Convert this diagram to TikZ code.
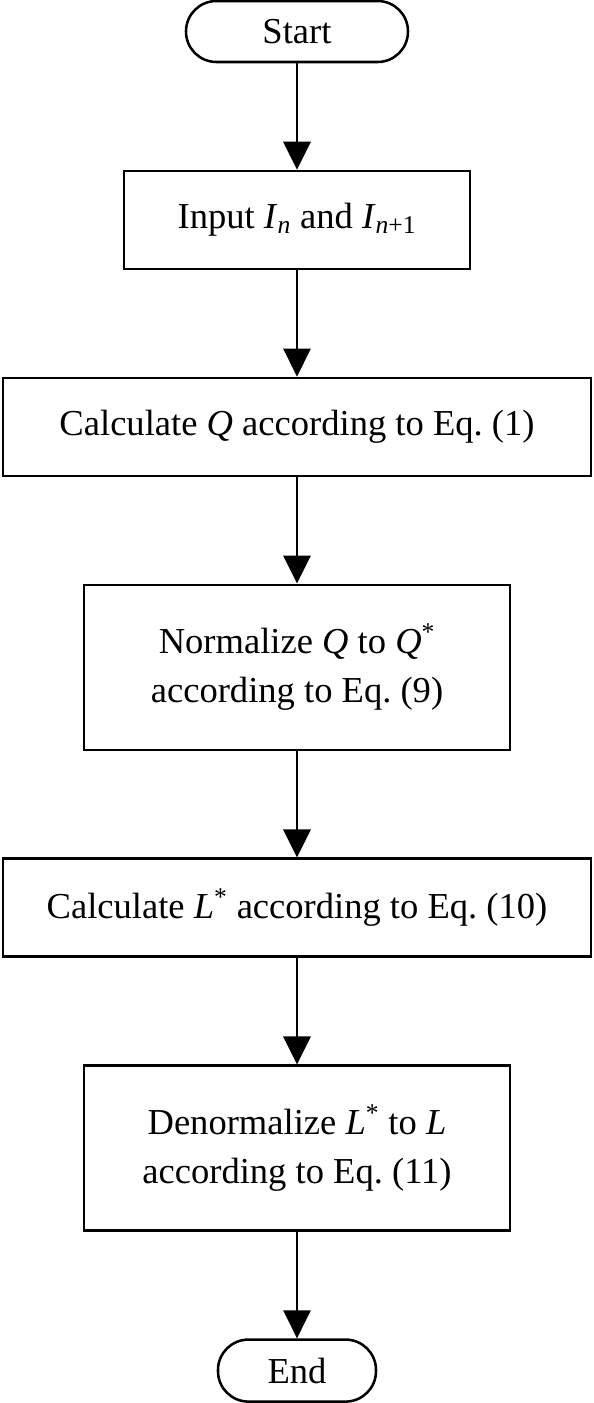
\documentclass[tikz,border=0pt]{standalone}
\usepackage{fontspec}
\setmainfont{Liberation Serif}
\usetikzlibrary{shapes,arrows.meta,positioning}
\frenchspacing
\tikzstyle{terminal} = [rectangle, draw, rounded corners=0.76cm, minimum height=1.525cm, align=center]
\tikzstyle{process} = [rectangle, draw, align=center, minimum height=2.45cm]
\tikzstyle{line} = [draw, -{Triangle[length=0.7cm, width=0.68cm]}]

\begin{document}
\begin{tikzpicture}[node distance=2.66cm, line width=1.8pt, font=\fontsize{26}{35}\selectfont]
    \useasboundingbox (-7.425,0.7875) rectangle (7.425,-34.2875);
    \node [terminal, minimum width=5.55cm] (start) {Start};
    \node [process, below=of start, minimum width=8.65cm] (input) {Input \textit{I}\textsubscript{\textit{n}} and \textit{I}\textsubscript{\textit{n}+1}};
    \node [process, below=of input, minimum width=14.7cm] (calcq) {Calculate \textit{Q} according to Eq. (1)};
    \node [process, below=of calcq, minimum width=10.65cm, minimum height=4.125cm] (norm) {Normalize \textit{Q} to \textit{Q}\textsuperscript{*}\\according to Eq. (9)};
    \node [process, below=of norm, minimum width=14.7cm] (calcl) {Calculate \textit{L}\textsuperscript{*} according to Eq. (10)};
    \node [process, below=of calcl, minimum width=10.65cm, minimum height=4.125cm] (denorm) {Denormalize \textit{L}\textsuperscript{*} to \textit{L}\\according to Eq. (11)};
    \node [terminal, below=of denorm, minimum width=3.95cm, minimum height=1.55cm] (end) {End};

    \path [line] (start) -- (input);
    \path [line] (input) -- (calcq);
    \path [line] (calcq) -- (norm);
    \path [line] (norm) -- (calcl);
    \path [line] (calcl) -- (denorm);
    \path [line] (denorm) -- (end);
\end{tikzpicture}
\end{document}
